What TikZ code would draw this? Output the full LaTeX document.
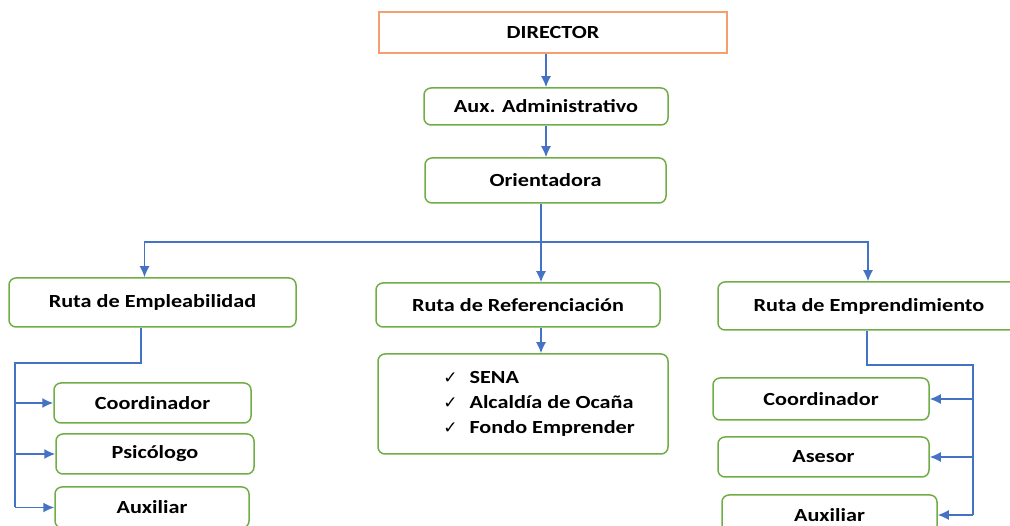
\documentclass[tikz,border=0pt]{standalone}
\usepackage{fontspec}
\setmainfont{Carlito}[FakeStretch=1.2]
\newfontfamily\checkfont{DejaVu Sans}
\usepackage{tikz}
\usetikzlibrary{arrows,arrows.meta}
\usetikzlibrary{positioning,calc}
\definecolor{boxgreen}{RGB}{112,173,71}
\definecolor{boxorange}{RGB}{244,160,110}
\definecolor{linkblue}{RGB}{68,114,196}

\begin{document}
\begin{tikzpicture}[x=1pt,y=-1pt,>={Latex[length=11pt,width=10pt]},
		cargo/.style={draw=boxgreen,line width=1.5pt,rounded corners=7pt,fill=white,inner sep=0pt,font=\bfseries\fontsize{18.5}{25}\selectfont},
		link/.style={draw=linkblue,line width=1.6pt}]
				\useasboundingbox (0,0) rectangle (1010,526);
				\clip (0,0) rectangle (1010,526);
				\node[cargo,draw=boxorange,rounded corners=0pt,minimum width=348pt,minimum height=41pt] (director) at (553,32.5) {DIRECTOR};
				\node[cargo,minimum width=244pt,minimum height=37pt] (aux) at (546,106.5) {Aux. Administrativo};
				\node[cargo,minimum width=241pt,minimum height=45pt] (orient) at (545.5,180.5) {Orientadora};
				\node[cargo,minimum width=287pt,minimum height=49pt] (emple) at (152.5,302.5) {Ruta de Empleabilidad};
				\node[cargo,minimum width=284pt,minimum height=44pt] (refer) at (518,305) {Ruta de Referenciación};
				\node[cargo,minimum width=302pt,minimum height=48pt] (empre) at (869,306) {Ruta de Emprendimiento};
				\node[cargo,minimum width=197pt,minimum height=40pt] (ecoord) at (152.5,403) {Coordinador};
				\node[cargo,minimum width=198pt,minimum height=40pt] (epsic) at (155,454) {Psicólogo};
				\node[cargo,minimum width=194pt,minimum height=41pt] (eaux) at (152,507.5) {Auxiliar};
				\node[cargo,minimum width=290pt,minimum height=100pt] (lista) at (523,404) {};
				\node[font=\bfseries\fontsize{18.5}{25}\selectfont,inner sep=0pt,align=left] (listtext) at (539,404) {%
					\begin{tabular}{@{}l@{\hspace{12pt}}l@{}}
						{\checkfont\mdseries\fontsize{17}{25}\selectfont ✓} & SENA\\
						{\checkfont\mdseries\fontsize{17}{25}\selectfont ✓} & Alcaldía de Ocaña\\
						{\checkfont\mdseries\fontsize{17}{25}\selectfont ✓} & Fondo Emprender
					\end{tabular}};
				\node[cargo,minimum width=216pt,minimum height=42pt] (mcoord) at (821,399) {Coordinador};
				\node[cargo,minimum width=211pt,minimum height=40pt] (mases) at (823.5,457) {Asesor};
				\node[cargo,minimum width=215pt,minimum height=40pt] (maux) at (829.5,515) {Auxiliar};

				\coordinate (hub) at (541,242);
				\coordinate (ebus) at (15,363);
				\coordinate (mbus) at (973,365);

				\draw[link,->] (aux.north |- director.south) -- (aux.north);
				\draw[link,->] (aux.south) -- (aux.south |- orient.north);
				\draw[link] (hub |- orient.south) -- (hub);
				\draw[link,->] (hub) -- (hub |- refer.north);
				\draw[link,->] (hub) -| ([xshift=-8pt]emple.north);
				\draw[link,->] (hub) -| ([xshift=-1pt]empre.north);
				\draw[link,->] (refer.south -| hub) -- (lista.north -| hub);

				\draw[link] ([xshift=-11.5pt]emple.south) |- (ebus) -- (ebus |- eaux.west);
				\draw[link,->] (ebus |- ecoord.west) -- (ecoord.west);
				\draw[link,->] (ebus |- epsic.west) -- (epsic.west);
				\draw[link,->] (ebus |- eaux.west) -- (eaux.west);

				\draw[link] ([xshift=-2pt]empre.south) |- (mbus) -- (mbus |- maux.east);
				\draw[link,->] (mbus |- mcoord.east) -- (mcoord.east);
				\draw[link,->] (mbus |- mases.east) -- (mases.east);
				\draw[link,->] (mbus |- maux.east) -- (maux.east);
			\end{tikzpicture}
\end{document}
